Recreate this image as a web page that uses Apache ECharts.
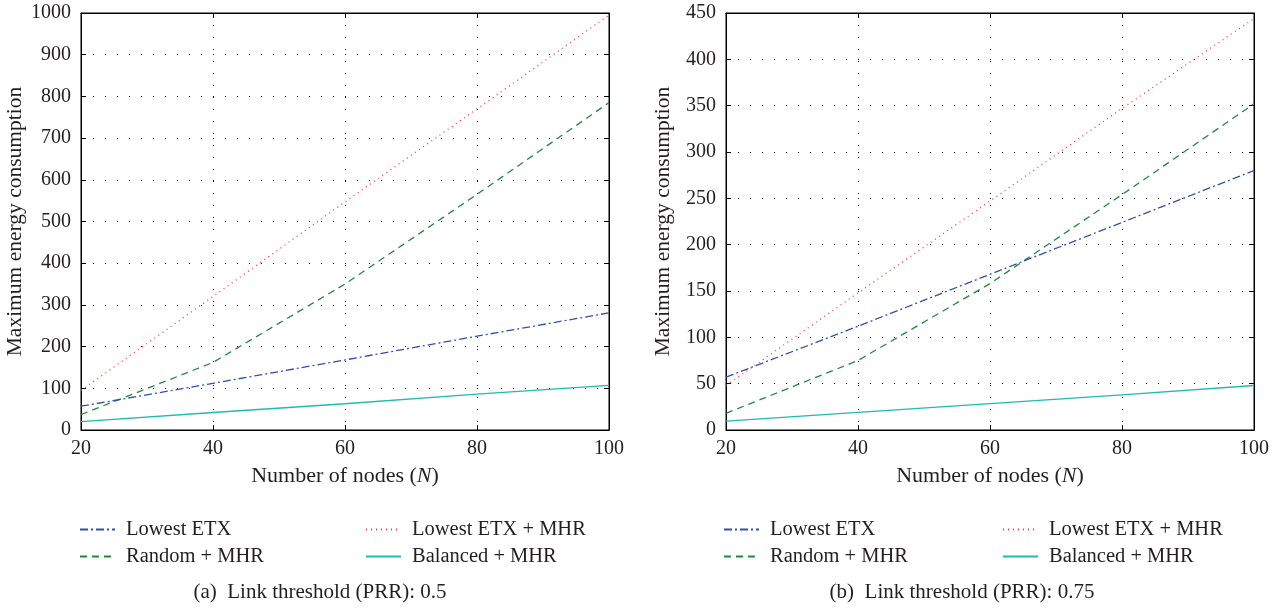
<!DOCTYPE html>
<html><head><meta charset="utf-8">
<script src="https://cdn.jsdelivr.net/npm/echarts@6/dist/echarts.min.js"></script>
<style>html,body{margin:0;padding:0;background:#fff}#c{width:1285px;height:609px}</style>
</head><body><div id="c"></div>
<script>
const nodes = [20, 40, 60, 80, 100];
const seriesNames = ['Lowest ETX', 'Lowest ETX + MHR', 'Random + MHR', 'Balanced + MHR'];
// (a) PRR 0.5
const a_lowestETX = [57, 112, 168, 225, 281];
const a_lowestETX_MHR = [95, 320, 547, 770, 995];
const a_random_MHR = [37, 162, 350, 565, 785];
const a_balanced_MHR = [20, 42, 63, 86, 107];
// (b) PRR 0.75
const b_lowestETX = [57, 112, 168, 224, 280];
const b_lowestETX_MHR = [48, 148, 247, 347, 444];
const b_random_MHR = [18, 75, 158, 254, 352];
const b_balanced_MHR = [9.5, 19, 28.5, 38, 48];
const captions = ['(a)  Link threshold (PRR): 0.5', '(b)  Link threshold (PRR): 0.75'];

const FONT = 'Liberation Serif';
const TXT = '#231f20';
const styles = [
  {color: '#3050b0', type: [8, 3, 2, 3]},
  {color: '#ff3333', type: [1, 4]},
  {color: '#22893c', type: [7, 5]},
  {color: '#1fbab2', type: 'solid'}
];
const panels = [
  {data: [a_lowestETX, a_lowestETX_MHR, a_random_MHR, a_balanced_MHR], left: 81, right: 676, ymax: 1000, yint: 100, nameGap: 55,
   leg: [79, 365], capX: 320},
  {data: [b_lowestETX, b_lowestETX_MHR, b_random_MHR, b_balanced_MHR], left: 726, right: 31, ymax: 450, yint: 50, nameGap: 52,
   leg: [723, 1002], capX: 962}
];
const grids = [], xAxes = [], yAxes = [], series = [], legends = [], graphics = [];
const dotted = {show: true, lineStyle: {color: '#000', type: [1, 11], width: 1}};
panels.forEach((p, i) => {
  grids.push({left: p.left, right: p.right, top: 13, height: 417, show: true, borderColor: '#000', borderWidth: 1,
    backgroundColor: 'transparent', containLabel: false, outerBoundsMode: 'none'});
  const xi = xAxes.length, yi = yAxes.length;
  xAxes.push({type: 'value', gridIndex: i, min: 20, max: 100, interval: 20,
    axisLine: {show: true, onZero: false, lineStyle: {color: '#000'}},
    axisTick: {show: true, inside: true, length: 5, lineStyle: {color: '#000'}},
    axisLabel: {fontFamily: FONT, fontSize: 20, color: TXT, margin: 9, formatter: v => String(v)},
    splitLine: dotted,
    name: 'Number of nodes ({i|N})', nameLocation: 'middle', nameGap: 35, nameMoveOverlap: false,
    nameTextStyle: {fontFamily: FONT, fontSize: 22, color: TXT, rich: {i: {fontFamily: FONT, fontSize: 22, fontStyle: 'italic', color: TXT}}}
  });
  xAxes.push({type: 'value', gridIndex: i, position: 'top', min: 20, max: 100, interval: 20,
    axisLine: {show: true, onZero: false, lineStyle: {color: '#000'}},
    axisTick: {show: true, inside: true, length: 5, lineStyle: {color: '#000'}},
    axisLabel: {show: false}, splitLine: {show: false}});
  yAxes.push({type: 'value', gridIndex: i, min: 0, max: p.ymax, interval: p.yint,
    axisLine: {show: true, onZero: false, lineStyle: {color: '#000'}},
    axisTick: {show: true, inside: true, length: 5, lineStyle: {color: '#000'}},
    axisLabel: {fontFamily: FONT, fontSize: 20, color: TXT, margin: 10, formatter: v => String(v)},
    splitLine: dotted,
    name: 'Maximum energy consumption', nameLocation: 'middle', nameGap: p.nameGap, nameMoveOverlap: false,
    nameTextStyle: {fontFamily: FONT, fontSize: 21.5, color: TXT}
  });
  yAxes.push({type: 'value', gridIndex: i, position: 'right', min: 0, max: p.ymax, interval: p.yint,
    axisLine: {show: true, onZero: false, lineStyle: {color: '#000'}},
    axisTick: {show: true, inside: true, length: 5, lineStyle: {color: '#000'}},
    axisLabel: {show: false}, splitLine: {show: false}});
  p.data.forEach((vals, k) => {
    series.push({name: seriesNames[k], type: 'line', xAxisIndex: xi, yAxisIndex: yi,
      data: nodes.map((n, j) => [n, vals[j]]), symbol: 'none', silent: true, animation: false,
      color: styles[k].color,
      lineStyle: {color: styles[k].color, type: styles[k].type, width: 1.3}, z: 5 - k});
  });
  seriesNames.forEach((nm, k) => {
    const col = k === 0 || k === 2 ? 0 : 1;
    const row = k < 2 ? 0 : 1;
    legends.push({data: [nm], left: p.leg[col], top: 519 + row * 27, padding: 0, itemWidth: 35, itemHeight: 14, itemGap: 0,
      selectedMode: false, itemStyle: {opacity: 0, borderWidth: 0},
      lineStyle: {width: 2},
      textStyle: {fontFamily: FONT, fontSize: 20.5, color: TXT, padding: [0, 0, 0, 6]}});
  });
  graphics.push({type: 'text', x: p.capX, y: 592, style: {text: captions[i], font: '21px "Liberation Serif"', fill: TXT, textAlign: 'center', textVerticalAlign: 'middle'}});
});
const chart = echarts.init(document.getElementById('c'));
chart.setOption({animation: false, grid: grids, xAxis: xAxes, yAxis: yAxes, series: series, legend: legends, graphic: graphics});
</script></body></html>
